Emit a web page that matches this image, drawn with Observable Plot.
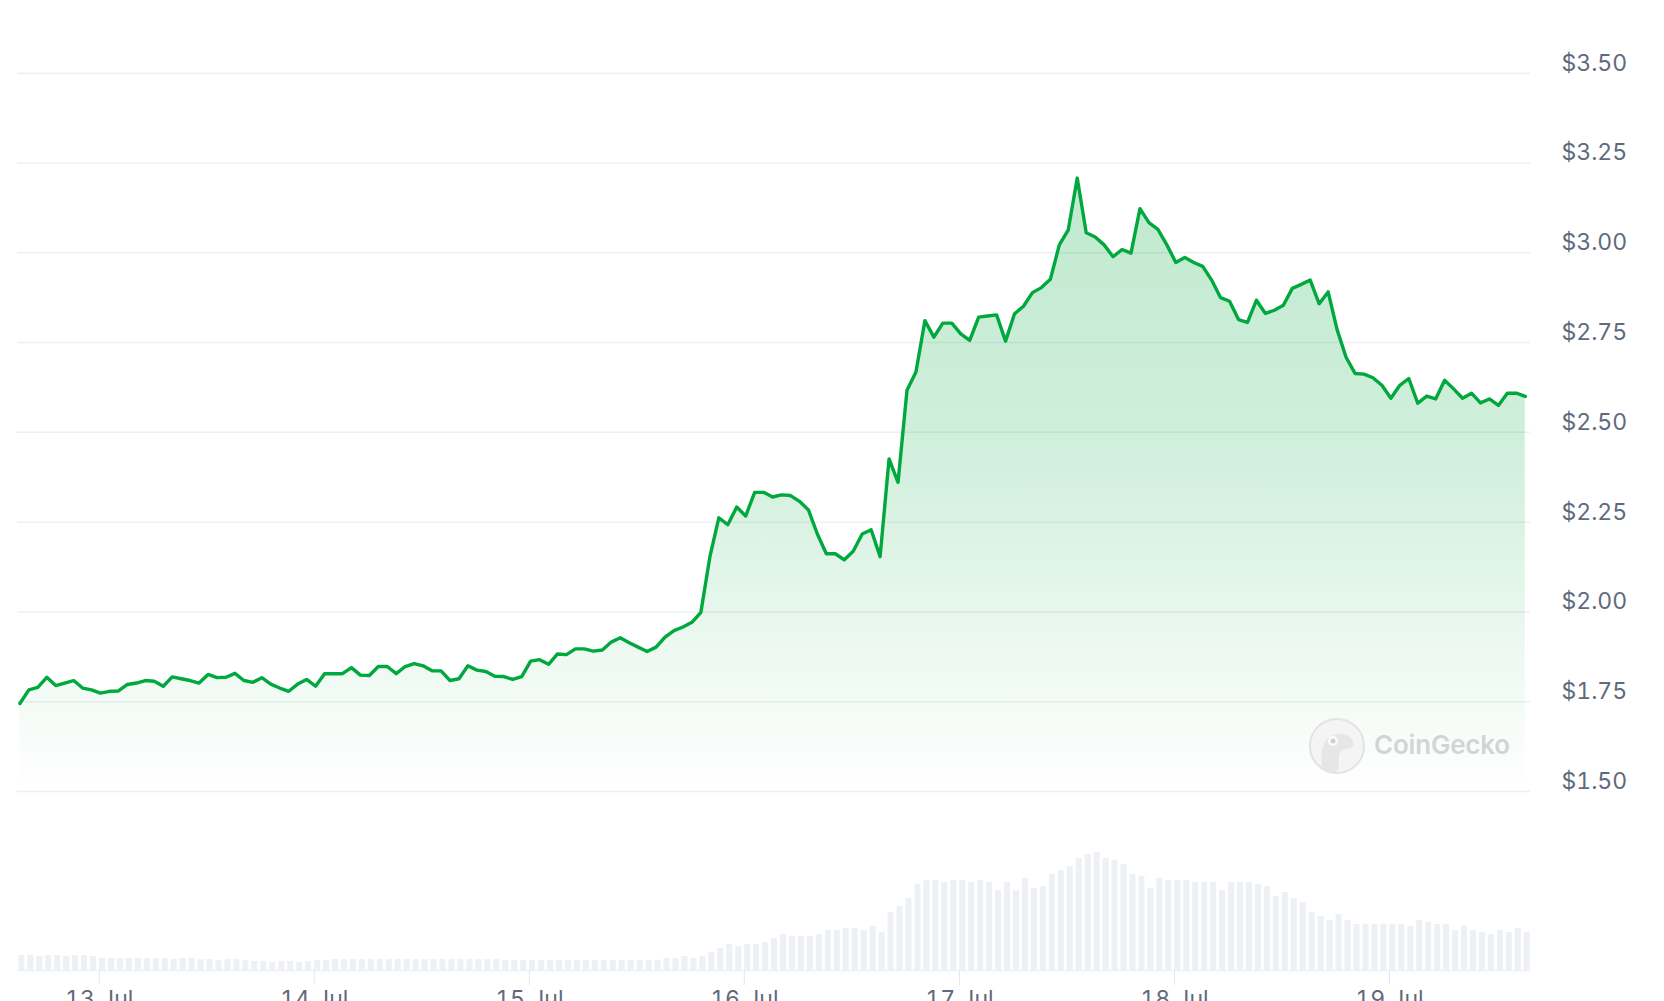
<!DOCTYPE html>
<html>
<head>
<meta charset="utf-8">
<script src="https://cdn.jsdelivr.net/npm/d3@7"></script>
<script src="https://cdn.jsdelivr.net/npm/@observablehq/plot@0.6"></script>
<style>
  html, body { margin: 0; padding: 0; background: #fff; overflow: hidden; }
  #chart { position: relative; width: 1664px; height: 1001px; font-family: Inter, sans-serif; }
  #volume, #price { position: absolute; left: 0; }
  #price { top: 0; }
  #volume { top: 800px; }
  #wm-logo { position: absolute; left: 1308px; top: 717px; }
  #wm-text { position: absolute; left: 1374px; top: 732px; font: 600 26px/26px Inter, sans-serif; color: #d4d4d4; letter-spacing: -0.2px; }
</style>
</head>
<body>
<div id="chart">
  <div id="volume"></div>
  <div id="price"></div>
  <svg id="wm-logo" width="58" height="58" viewBox="0 0 58 58">
    <circle cx="29" cy="29" r="27" fill="#f4f4f4" stroke="#e3e3e3" stroke-width="2"/>
    <path d="M14 50 C12 36 14 22 26 18 C34 15 42 18 45 24 C47 29 43 32 37 32 C32 33 30 38 31 44 C31 48 30 52 28 55 C22 55 17 53 14 50 Z" fill="#e6e6e6"/>
    <circle cx="25" cy="24" r="5" fill="#fbfbfb"/>
    <circle cx="25" cy="24" r="2.5" fill="#cfcfcf"/>
  </svg>
  <div id="wm-text">CoinGecko</div>
</div>
<script>
// ---- data (hourly) ----
const startTime = "2024-07-12T15:09:00Z";
const xDomain = ["2024-07-12T14:53:00Z", "2024-07-19T15:44:00Z"];

const prices = [
  1.745,1.783,1.790,1.818,1.795,1.802,1.809,1.788,1.783,1.774,
  1.779,1.780,1.798,1.802,1.809,1.807,1.793,1.819,1.814,1.809,
  1.802,1.826,1.817,1.818,1.829,1.809,1.804,1.817,1.799,1.788,
  1.779,1.799,1.812,1.793,1.828,1.828,1.828,1.845,1.824,1.823,
  1.848,1.848,1.828,1.848,1.856,1.850,1.836,1.836,1.809,1.814,
  1.850,1.838,1.834,1.821,1.820,1.812,
  1.820,1.863,1.867,1.854,1.883,1.881,1.897,1.897,1.891,1.894,
  1.916,1.928,1.914,1.902,1.890,1.902,1.930,1.948,1.958,1.971,
  1.999,2.153,2.262,2.243,2.292,2.267,2.333,2.333,2.320,2.326,
  2.324,2.308,2.284,2.217,2.162,2.162,2.145,2.169,2.217,2.229,
  2.154,2.426,2.361,2.617,2.668,2.811,2.765,2.804,2.804,2.774,
  2.756,2.821,2.824,2.827,2.754,2.830,
  2.851,2.889,2.903,2.926,3.022,3.064,3.208,3.056,3.044,3.022,
  2.989,3.009,2.999,3.123,3.084,3.065,3.022,2.973,2.987,2.973,
  2.962,2.924,2.875,2.865,2.814,2.806,2.868,2.831,2.840,2.854,
  2.901,2.912,2.924,2.858,2.891,2.786,2.709,2.664,2.662,2.652,
  2.631,2.595,2.631,2.650,2.581,2.601,2.593,2.645,2.621,2.595,
  2.609,2.582,2.593,2.575,2.609,2.609,2.600
];

// volume, millions USD
const volumes = [
  7.5,7.5,7,7.5,7.5,7,7.5,7.5,7,
  6,6,6,6,6,6,6,6,5.5,6,6,
  5.5,5.5,5,5.5,5.5,5,
  4.5,4.5,4,4.5,4.5,4,4.5,
  5,5,
  5.5,5.5,5.5,5.5,5.5,5.5,5.5,5.5,5.5,5.5,5.5,5.5,5.5,5.5,5.5,5.5,5.5,5.5,5.5,
  5,5,5,5,5,5,5,5,5,5,5,5,5,5,5,5,5,5,
  6,6,7,6,7,9,11,13,12,13,13,14,16,18,17,17,17,18,20,20,21,21,20,22,19,
  29,32,36,43,45,45,44,45,45,44,45,44,40,44,40,
  46,41,42,48,50,52,56,58,59,56,55,53,48,47,41,46,45,45,45,44,44,44,40,44,44,44,43,42,
  37,39,36,34,29,27,25,28,25,23,23,23,23,23,23,22,25,24,23,23,20,22,20,19,18,20,19,21,19
];

const priceTicks = [1.5, 1.75, 2, 2.25, 2.5, 2.75, 3, 3.25, 3.5];
const dayTicks = ["2024-07-13","2024-07-14","2024-07-15","2024-07-16","2024-07-17","2024-07-18","2024-07-19"];
const volumeDomain = [0, 60];

// ---- build tables ----
const hour = 3600e3;
const t0 = new Date(startTime).getTime();
const times = prices.map((_, i) => new Date(t0 + i * hour));
const priceData = prices.map((p, i) => ({ t: times[i], p }));
const volData = volumes.map((v, i) => ({ t1: times[i], t2: new Date(+times[i] + hour), v }));
const yMin = priceTicks[0], yMax = priceTicks[priceTicks.length - 1];
const xDom = xDomain.map(d => new Date(d));
const dayDates = dayTicks.map(d => new Date(d + "T00:00:00Z"));

const textColor = "#5f6b7d";
const green = "#00a83e";

const pricePlot = Plot.plot({
  width: 1664, height: 800,
  marginLeft: 17, marginRight: 134, marginTop: 72.7, marginBottom: 9,
  style: { fontFamily: "Inter, sans-serif", fontSize: "23px", background: "transparent", overflow: "visible" },
  x: { type: "utc", domain: xDom, axis: null, label: null },
  y: { domain: [yMin, yMax], axis: null, label: null },
  marks: [
    Plot.gridY(priceTicks, { stroke: "#edf0f3", strokeOpacity: 1, strokeWidth: 1.5 }),
    Plot.areaY(priceData, { x: "t", y1: yMin, y2: "p", fill: "url(#priceFill)" }),
    Plot.lineY(priceData, { x: "t", y: "p", stroke: green, strokeWidth: 3.4, strokeLinejoin: "round", strokeLinecap: "round" }),
    Plot.axisY(priceTicks, { anchor: "right", label: null, tickSize: 0, tickPadding: 31, textAnchor: "start", dy: -10,
      tickFormat: d => "$" + d.toFixed(2), fill: textColor })
  ]
});

const defs = d3.select(pricePlot).insert("defs", ":first-child");
const grad = defs.append("linearGradient").attr("id", "priceFill")
  .attr("x1", 0).attr("y1", 0).attr("x2", 0).attr("y2", 1);
[[0, 0.25], [0.45, 0.18], [0.75, 0.08], [1, 0.0]].forEach(([o, a]) => {
  grad.append("stop").attr("offset", o).attr("stop-color", green).attr("stop-opacity", a);
});

const volumePlot = Plot.plot({
  width: 1664, height: 201,
  marginLeft: 17, marginRight: 134, marginTop: 50, marginBottom: 31,
  style: { fontFamily: "Inter, sans-serif", fontSize: "23px", background: "transparent", overflow: "visible" },
  x: { type: "utc", domain: xDom, axis: null, label: null },
  y: { domain: volumeDomain, axis: null, label: null },
  marks: [
    Plot.rectY(volData, { x1: "t1", x2: "t2", y1: 0, y2: "v", fill: "#edf0f4", insetLeft: -1, insetRight: 4 }),
    Plot.ruleY([0], { stroke: "#edf0f4", strokeWidth: 1.5 }),
    Plot.axisX(dayDates, { anchor: "bottom", label: null, tickSize: 15, tickPadding: 5,
      tickFormat: d3.utcFormat("%-d %b"), stroke: "#e3e7ec", fill: textColor })
  ]
});

document.getElementById("price").appendChild(pricePlot);
document.getElementById("volume").appendChild(volumePlot);
</script>
</body>
</html>
